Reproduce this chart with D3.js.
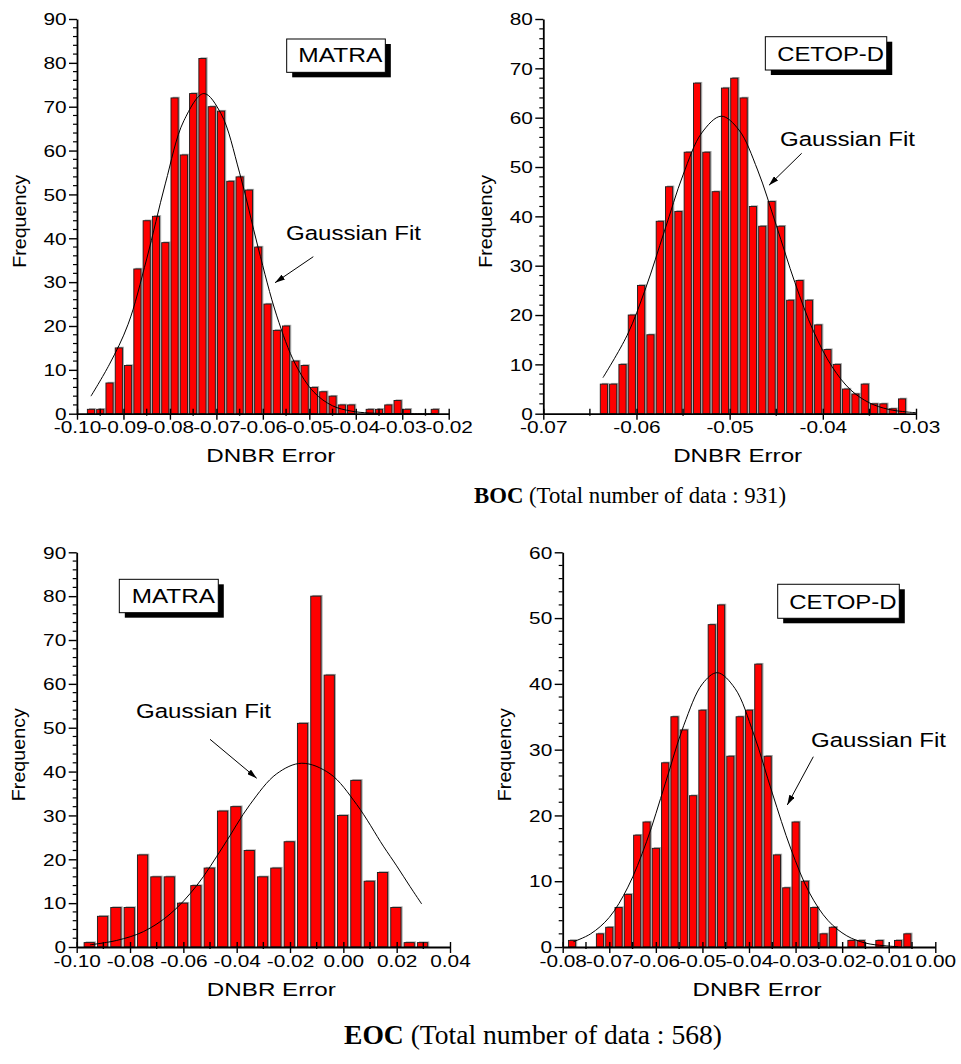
<!DOCTYPE html>
<html>
<head>
<meta charset="utf-8">
<script src="https://cdn.jsdelivr.net/npm/d3@7"></script>
<style>
  body { margin: 0; background: #fff; }
  svg text { font-family: "Liberation Sans", Arial, sans-serif; fill: #000; }
</style>
</head>
<body>
<div id="chart"></div>
<script>
// ---- data ----
// BOC, MATRA : bins of 0.002, first bin centre -0.097
const bocMatraFirstBin = -0.097, bocMatraBinWidth = 0.002;
const bocMatraCounts = [1,1,7,15,11,33,44,45,39,72,59,73,81,70,69,53,54,51,38,25,19,20,12,11,6,5,4,2,2,0,1,1,2,3,1,0,0,1];
const bocMatraFit = [[-0.097,4],[-0.093,11.3],[-0.089,20.4],[-0.085,35.3],[-0.081,52.4],[-0.077,66.8],[-0.0727,73],
  [-0.069,68.4],[-0.065,54.9],[-0.061,37.8],[-0.057,22.3],[-0.053,11.3],[-0.049,4.9],[-0.045,1.8],[-0.041,0.6],[-0.037,0.15],[-0.030,0],[-0.023,0]];

// BOC, CETOP-D : bins of 0.001, first bin centre -0.0635
const bocCetopFirstBin = -0.0635, bocCetopBinWidth = 0.001;
const bocCetopCounts = [6,6,10,20,26,16,39,46,41,53,67,53,45,66,68,64,42,38,43,38,23,27,23,18,13,10,5,4,6,2,2,1,3];
const bocCetopFit = [[-0.0636,7.3],[-0.061,15.9],[-0.059,25.5],[-0.057,37],[-0.055,48.4],[-0.053,56.9],[-0.0509,60.3],
  [-0.049,57.5],[-0.047,49.4],[-0.045,38.2],[-0.043,26.6],[-0.041,16.7],[-0.039,9.5],[-0.037,4.8],[-0.035,2.2],[-0.033,0.9],[-0.031,0.35],[-0.030,0.2]];

// EOC, MATRA : bins of 0.005, first bin centre -0.0953
const eocMatraFirstBin = -0.0953, eocMatraBinWidth = 0.005;
const eocMatraCounts = [1,7,9,9,21,16,16,10,14,18,31,32,22,16,18,24,51,80,62,30,38,15,17,9,1,1];
const eocMatraFit = [[-0.095,0.5],[-0.085,1.5],[-0.075,3.5],[-0.065,7.5],[-0.055,14],[-0.045,23],[-0.035,32.5],
  [-0.025,39.5],[-0.0156,41.9],[-0.005,39.5],[0.005,32.5],[0.015,23],[0.020,18.5],[0.025,13.8],[0.0294,9.8]];

// EOC, CETOP-D : bins of 0.002, first bin centre -0.078
const eocCetopFirstBin = -0.078, eocCetopBinWidth = 0.002;
const eocCetopCounts = [1,0,0,2,3,6,8,17,19,15,28,35,33,23,36,49,52,29,35,36,43,29,14,9,19,10,6,2,3,0,1,1,0,1,0,1,2];
const eocCetopFit = [[-0.0777,0.8],[-0.074,2],[-0.070,4.5],[-0.066,9.1],[-0.062,16],[-0.058,24.8],[-0.054,33.7],[-0.050,40],
  [-0.0468,41.7],[-0.043,39.3],[-0.039,32.4],[-0.035,23.4],[-0.031,14.9],[-0.027,8.2],[-0.023,4],[-0.019,1.7],[-0.015,0.6],[-0.011,0.2],[-0.008,0.05]];

// tick labels
const xTicksBocMatra = [-0.10,-0.09,-0.08,-0.07,-0.06,-0.05,-0.04,-0.03,-0.02];
const xLabelsBocMatra = ["-0.10","-0.09","-0.08","-0.07","-0.06","-0.05","-0.04","-0.03","-0.02"];
const xTicksBocCetop = [-0.07,-0.06,-0.05,-0.04,-0.03];
const xLabelsBocCetop = ["-0.07","-0.06","-0.05","-0.04","-0.03"];
const xTicksEocMatra = [-0.10,-0.08,-0.06,-0.04,-0.02,0.00,0.02,0.04];
const xLabelsEocMatra = ["-0.10","-0.08","-0.06","-0.04","-0.02","0.00","0.02","0.04"];
const xTicksEocCetop = [-0.08,-0.07,-0.06,-0.05,-0.04,-0.03,-0.02,-0.01,0.00];
const xLabelsEocCetop = ["-0.08","-0.07","-0.06","-0.05","-0.04","-0.03","-0.02","-0.01","0.00"];
const yTicks90 = [0,10,20,30,40,50,60,70,80,90];
const yTicks80 = [0,10,20,30,40,50,60,70,80];
const yTicks60 = [0,10,20,30,40,50,60];

const captionBoc = ["BOC", " (Total number of data : 931)"];
const captionEoc = ["EOC", " (Total number of data : 568)"];

// ---- layout ----
const W = 961, H = 1064;
const svg = d3.select("#chart").append("svg").attr("width", W).attr("height", H);

const panels = [
  { first: bocMatraFirstBin, bin: bocMatraBinWidth, counts: bocMatraCounts, fit: bocMatraFit,
    xDomain: [-0.10, -0.02], xRange: [77, 448.7], yMax: 90, yRange: [413.7, 19],
    xTicks: xTicksBocMatra, xLabels: xLabelsBocMatra, xMinor: 0.005, yTicks: yTicks90,
    name: "MATRA", box: [-0.05487, 85.44, -0.03364, 77.84], nameAt: [-0.05237, 80.19], nameLen: 84,
    fitLabel: [-0.05502, 39.6], arrow: [[-0.04914, 35.8], [-0.05738, 29.87]] },
  { first: bocCetopFirstBin, bin: bocCetopBinWidth, counts: bocCetopCounts, fit: bocCetopFit,
    xDomain: [-0.07, -0.03], xRange: [543.3, 916], yMax: 80, yRange: [413.7, 19],
    xTicks: xTicksBocCetop, xLabels: xLabelsBocCetop, xMinor: 0.005, yTicks: yTicks80,
    name: "CETOP-D", box: [-0.04617, 76.41, -0.03314, 69.66], nameAt: [-0.04489, 71.48], nameLen: 106.7,
    fitLabel: [-0.0446, 54.26], arrow: [[-0.04227, 52.78], [-0.04578, 46.3]] },
  { first: eocMatraFirstBin, bin: eocMatraBinWidth, counts: eocMatraCounts, fit: eocMatraFit,
    xDomain: [-0.10, 0.04], xRange: [76.7, 450], yMax: 90, yRange: [947, 552.3],
    xTicks: xTicksEocMatra, xLabels: xLabelsEocMatra, xMinor: 0.01, yTicks: yTicks90,
    name: "MATRA", box: [-0.08402, 83.84, -0.0469, 76.23], nameAt: [-0.07937, 78.37], nameLen: 83.3,
    fitLabel: [-0.07776, 52.15], arrow: [[-0.05, 47.36], [-0.03249, 38.47]] },
  { first: eocCetopFirstBin, bin: eocCetopBinWidth, counts: eocCetopCounts, fit: eocCetopFit,
    xDomain: [-0.08, 0.00], xRange: [562.7, 935.3], yMax: 60, yRange: [947, 552.3],
    xTicks: xTicksEocCetop, xLabels: xLabelsEocCetop, xMinor: 0.005, yTicks: yTicks60,
    name: "CETOP-D", box: [-0.03384, 55.14, -0.00773, 49.97], nameAt: [-0.03135, 51.38], nameLen: 107.3,
    fitLabel: [-0.02669, 30.36], arrow: [[-0.02619, 28.93], [-0.03178, 21.59]] }
];

svg.append("defs").append("marker")
  .attr("id", "head").attr("viewBox", "0 0 10 6").attr("refX", 10).attr("refY", 3)
  .attr("markerWidth", 10).attr("markerHeight", 6).attr("markerUnits", "userSpaceOnUse")
  .attr("orient", "auto")
  .append("path").attr("d", "M0,0L10,3L0,6Z").attr("fill", "#000");

// stretch text horizontally, the figure's font is wide
function widen(sel, k) {
  sel.each(function() {
    const w = this.getComputedTextLength();
    d3.select(this).attr("textLength", w * k).attr("lengthAdjust", "spacingAndGlyphs");
  });
}

panels.forEach(drawPanel);

function drawPanel(p) {
  const x = d3.scaleLinear().domain(p.xDomain).range(p.xRange);
  const y = d3.scaleLinear().domain([0, p.yMax]).range(p.yRange);
  const g = svg.append("g");

  const bins = p.counts.map((c, i) => ({ mid: p.first + i * p.bin, c: c })).filter(d => d.c > 0);
  const bw = (x(p.bin) - x(0)) * 0.77;

  // grey shade behind each bar
  g.selectAll(".shade").data(bins).join("rect")
    .attr("x", d => x(d.mid) - bw / 2 + 1.6)
    .attr("y", d => y(d.c) - 1.2)
    .attr("width", bw)
    .attr("height", d => y(0) - y(d.c) + 1.2)
    .attr("fill", "#a9a9a9");

  g.selectAll(".bar").data(bins).join("rect")
    .attr("x", d => x(d.mid) - bw / 2)
    .attr("y", d => y(d.c))
    .attr("width", bw)
    .attr("height", d => y(0) - y(d.c))
    .attr("fill", "#ff0000")
    .attr("stroke", "#1a1a1a")
    .attr("stroke-width", 0.9);

  // gaussian fit
  const line = d3.line().x(d => x(d[0])).y(d => y(d[1])).curve(d3.curveCatmullRom.alpha(0.5));
  g.append("path").datum(p.fit).attr("d", line)
    .attr("fill", "none").attr("stroke", "#000").attr("stroke-width", 1);

  // x axis
  const xa = g.append("g").attr("transform", "translate(0," + y(0) + ")")
    .call(d3.axisBottom(x).tickValues(p.xTicks).tickFormat((d, i) => p.xLabels[i]).tickSize(6).tickSizeOuter(0));
  xa.select(".domain").attr("stroke-width", 1.8);
  xa.selectAll(".tick line").attr("y1", -5).attr("stroke-width", 1.4);
  xa.selectAll(".tick text").attr("y", 19.5).attr("dy", 0).style("font-size", "16px")
    .style("font-family", '"Liberation Sans", Arial, sans-serif');
  widen(xa.selectAll(".tick text"), 1.3);

  const xMinor = d3.range(p.xDomain[0] + p.xMinor, p.xDomain[1] - 1e-9, p.xMinor)
    .filter(v => !p.xTicks.some(t => Math.abs(t - v) < 1e-9));
  g.selectAll(".xminor").data(xMinor).join("line")
    .attr("x1", d => x(d)).attr("x2", d => x(d))
    .attr("y1", y(0) - 5).attr("y2", y(0) + 2)
    .attr("stroke", "#000").attr("stroke-width", 1.4);

  // y axis
  const ya = g.append("g").attr("transform", "translate(" + x(p.xDomain[0]) + ",0)")
    .call(d3.axisLeft(y).tickValues(p.yTicks).tickFormat(d3.format("d")).tickSize(8).tickSizeOuter(0));
  ya.select(".domain").attr("stroke-width", 1.8);
  ya.selectAll(".tick line").attr("stroke-width", 1.4);
  ya.selectAll(".tick text").attr("x", -10.5).attr("dy", "0.36em").style("font-size", "16px")
    .style("font-family", '"Liberation Sans", Arial, sans-serif');
  widen(ya.selectAll(".tick text"), 1.3);

  const yMinor = d3.range(2, p.yMax, 2).filter(v => v % 10 !== 0);
  g.selectAll(".yminor").data(yMinor).join("line")
    .attr("x1", x(p.xDomain[0]) - 4).attr("x2", x(p.xDomain[0]))
    .attr("y1", d => y(d)).attr("y2", d => y(d))
    .attr("stroke", "#000").attr("stroke-width", 1.2);

  // axis titles
  const midX = (p.xRange[0] + p.xRange[1]) / 2 + 8;
  g.append("text").attr("x", midX).attr("y", y(0) + 48.5)
    .attr("text-anchor", "middle").style("font-size", "18.5px")
    .attr("textLength", 129).attr("lengthAdjust", "spacingAndGlyphs")
    .text("DNBR Error");
  const midY = (p.yRange[0] + p.yRange[1]) / 2 + 5;
  g.append("text")
    .attr("transform", "translate(" + (x(p.xDomain[0]) - 58) + "," + midY + ") rotate(-90)")
    .attr("text-anchor", "middle").attr("dy", "0.35em").style("font-size", "19px")
    .attr("textLength", 93).attr("lengthAdjust", "spacingAndGlyphs")
    .text("Frequency");

  // name box with drop shadow
  const bx = x(p.box[0]), by = y(p.box[1]), bW = x(p.box[2]) - x(p.box[0]), bH = y(p.box[3]) - y(p.box[1]);
  g.append("rect").attr("x", bx + 5.5).attr("y", by + 5).attr("width", bW).attr("height", bH).attr("fill", "#000");
  g.append("rect").attr("x", bx).attr("y", by).attr("width", bW).attr("height", bH)
    .attr("fill", "#fff").attr("stroke", "#000").attr("stroke-width", 1);
  g.append("text").attr("x", x(p.nameAt[0])).attr("y", y(p.nameAt[1]))
    .style("font-size", "20.5px")
    .attr("textLength", p.nameLen).attr("lengthAdjust", "spacingAndGlyphs")
    .text(p.name);

  // Gaussian Fit label and arrow
  g.append("text").attr("x", x(p.fitLabel[0])).attr("y", y(p.fitLabel[1]))
    .style("font-size", "20.5px")
    .attr("textLength", 135).attr("lengthAdjust", "spacingAndGlyphs")
    .text("Gaussian Fit");
  g.append("line")
    .attr("x1", x(p.arrow[0][0])).attr("y1", y(p.arrow[0][1]))
    .attr("x2", x(p.arrow[1][0])).attr("y2", y(p.arrow[1][1]))
    .attr("stroke", "#000").attr("stroke-width", 1)
    .attr("marker-end", "url(#head)");
}

// captions
function caption(parts, xPos, yPos, size, len) {
  const t = svg.append("text").attr("x", xPos).attr("y", yPos)
    .style("font-family", '"Liberation Serif", "Times New Roman", serif')
    .style("font-size", size + "px")
    .attr("textLength", len).attr("lengthAdjust", "spacingAndGlyphs");
  t.append("tspan").style("font-weight", "bold").text(parts[0]);
  t.append("tspan").text(parts[1]);
}
caption(captionBoc, 474, 503, 23, 312);
caption(captionEoc, 344, 1044, 27, 378);
</script>
</body>
</html>
